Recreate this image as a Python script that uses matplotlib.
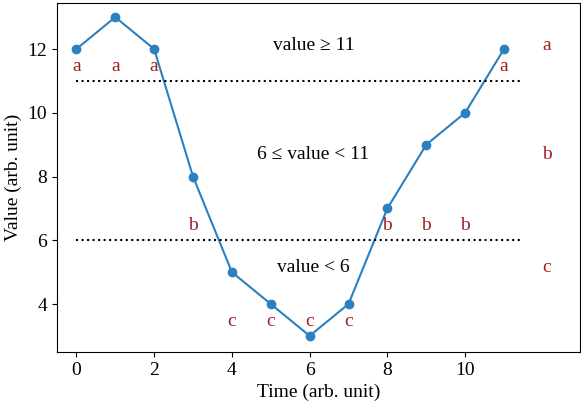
import matplotlib
matplotlib.use("Agg")
import matplotlib.pyplot as plt

plt.rcParams['font.family'] = ['Liberation Serif', 'DejaVu Serif']

time = [0, 1, 2, 3, 4, 5, 6, 7, 8, 9, 10, 11]
values = [12, 13, 12, 8, 5, 4, 3, 4, 7, 9, 10, 12]
categories = ['a', 'a', 'a', 'b', 'c', 'c', 'c', 'c', 'b', 'b', 'b', 'a']
thresholds = [11, 6]
cat_letter_y = {'a': 11.45, 'b': 6.45, 'c': 3.45}
band_names = ['a', 'b', 'c']
band_texts = ['value ≥ 11', '6 ≤ value < 11', 'value < 6']
band_text_y = [12.1, 8.7, 5.15]
xticks = [0, 2, 4, 6, 8, 10]
yticks = [4, 6, 8, 10, 12]

fs = 14
fig = plt.figure(figsize=(5.81, 4.03), dpi=100)
ax = fig.add_axes([0.098, 0.127, 0.9, 0.866])

ax.plot(time, values, '-o', color='#2a80c0', lw=1.5, ms=6)
for t in thresholds:
    ax.hlines(t, 0, 11.5, colors='black', linestyles=':', lw=1.5)

red = '#a51d1d'
for x, c in zip(time, categories):
    ax.text(x, cat_letter_y[c], c, color=red, ha='center', va='center', fontsize=fs)

for name, txt, y in zip(band_names, band_texts, band_text_y):
    ax.text(6.1, y, txt, ha='center', va='center', fontsize=fs)
    ax.text(12.1, y, name, color=red, ha='center', va='center', fontsize=fs)

ax.set_xlim(-0.5, 12.95)
ax.set_ylim(2.5, 13.45)
ax.set_xticks(xticks)
ax.set_yticks(yticks)
ax.tick_params(labelsize=fs)
ax.set_xlabel('Time (arb. unit)', fontsize=fs)
ax.set_ylabel('Value (arb. unit)', fontsize=fs)

fig.savefig('out.png', dpi=100)
